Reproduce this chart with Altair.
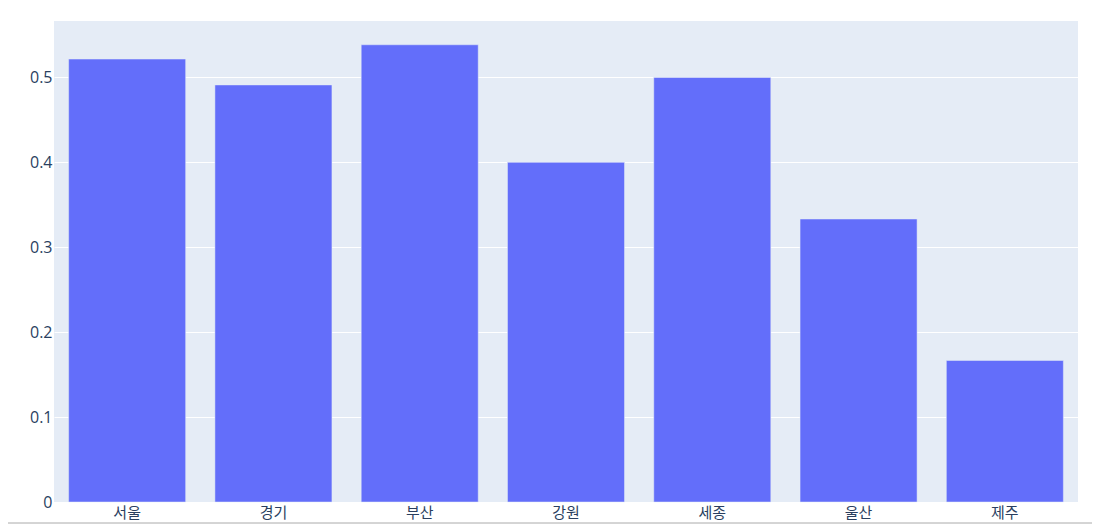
import altair as alt
import pandas as pd

regions = ["서울", "경기", "부산", "강원", "세종", "울산", "제주"]
values = [0.5217, 0.4912, 0.5385, 0.4, 0.5, 0.3333, 0.1667]

df = pd.DataFrame({"region": regions, "value": values})

font = "Open Sans, Noto Sans CJK KR, sans-serif"

bars = alt.Chart(df).mark_bar(color="#636efa", stroke="#E5ECF6", strokeWidth=0.5).encode(
    x=alt.X("region:N", sort=regions, title=None,
            scale=alt.Scale(paddingInner=0.2, paddingOuter=0.1),
            axis=alt.Axis(labelAngle=0, ticks=False, domain=False, grid=False,
                          labelFont=font, labelFontSize=15, labelColor="#2a3f5f",
                          labelPadding=3)),
    y=alt.Y("value:Q", title=None,
            scale=alt.Scale(domain=[0, 0.5665], nice=False, zero=True),
            axis=alt.Axis(values=[0, 0.1, 0.2, 0.3, 0.4, 0.5], format="~g",
                          ticks=False, domain=False, grid=True, gridColor="white",
                          gridWidth=1, labelFont=font, labelFontSize=16,
                          labelColor="#2a3f5f", labelPadding=2)),
)

line = alt.Chart(df).mark_rule(color="#d4d4d4", strokeWidth=1, clip=False).encode(
    x=alt.value(-54), x2=alt.value(1038), y=alt.value(502)
)

chart = alt.layer(bars, line).properties(
    width=1024, height=481,
    autosize=alt.AutoSizeParams(type="none"),
    padding={"left": 46, "top": 13, "right": 14, "bottom": 22},
).configure(background="white").configure_view(fill="#E5ECF6", stroke=None)

chart.save("out.html", embed_options={"renderer": "svg", "actions": False})
